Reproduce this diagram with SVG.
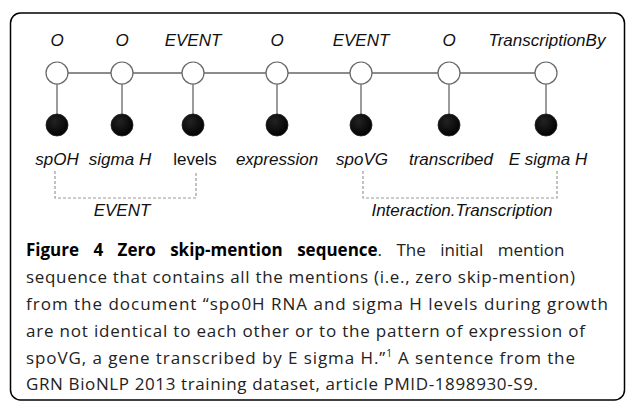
<svg xmlns="http://www.w3.org/2000/svg" width="629" height="402" viewBox="0 0 629 402">
<defs>
<radialGradient id="blk" cx="0.4" cy="0.35" r="0.7">
<stop offset="0" stop-color="#222"/>
<stop offset="1" stop-color="#000"/>
</radialGradient>
</defs>
<style>
.lbl{font-family:"Liberation Sans",Arial,sans-serif;font-size:17px;font-style:italic;fill:#111;text-anchor:middle}
.up{font-style:normal}
.wn{fill:#fff;stroke:#666;stroke-width:1.2}
.bn{fill:url(#blk);stroke:#222;stroke-width:0.8}
.edge{stroke:#666;stroke-width:1.3;fill:none}
.br{stroke:#999;stroke-width:1.2;fill:none;stroke-dasharray:3,2}
.cap{font-family:"Open Sans","Noto Sans",sans-serif;font-size:17px;fill:#222}
.b{font-weight:bold;fill:#000}
</style>
<rect x="10.5" y="13" width="614" height="387" rx="10" fill="#fff" stroke="#000" stroke-width="1.5"/>
<g id="connectors">
<line class="edge" x1="57" y1="73" x2="546" y2="73"/>
<line class="edge" x1="57" y1="73" x2="57" y2="125"/>
<line class="edge" x1="122" y1="73" x2="122" y2="125"/>
<line class="edge" x1="193" y1="73" x2="193" y2="125"/>
<line class="edge" x1="277" y1="73" x2="277" y2="125"/>
<line class="edge" x1="361" y1="73" x2="361" y2="125"/>
<line class="edge" x1="449" y1="73" x2="449" y2="125"/>
<line class="edge" x1="546" y1="73" x2="546" y2="125"/>
<polyline class="br" points="55,171 55,198 196,198 196,171"/>
<polyline class="br" points="363,171 363,198 557,198 557,171"/>
</g>
<g id="n1"><text class="lbl" x="57" y="46">O</text><circle class="wn" cx="57" cy="73" r="11"/><circle class="bn" cx="57" cy="125" r="11"/><text class="lbl" x="57" y="165">spOH</text></g>
<g id="n2"><text class="lbl" x="122" y="46">O</text><circle class="wn" cx="122" cy="73" r="11"/><circle class="bn" cx="122" cy="125" r="11"/><text class="lbl" x="120" y="165">sigma H</text></g>
<g id="n3"><text class="lbl" x="193" y="46">EVENT</text><circle class="wn" cx="193" cy="73" r="11"/><circle class="bn" cx="193" cy="125" r="11"/><text class="lbl up" x="195" y="165">levels</text></g>
<g id="n4"><text class="lbl" x="277" y="46">O</text><circle class="wn" cx="277" cy="73" r="11"/><circle class="bn" cx="277" cy="125" r="11"/><text class="lbl" x="277" y="165">expression</text></g>
<g id="n5"><text class="lbl" x="361" y="46">EVENT</text><circle class="wn" cx="361" cy="73" r="11"/><circle class="bn" cx="361" cy="125" r="11"/><text class="lbl" x="362" y="165">spoVG</text></g>
<g id="n6"><text class="lbl" x="449" y="46">O</text><circle class="wn" cx="449" cy="73" r="11"/><circle class="bn" cx="449" cy="125" r="11"/><text class="lbl" x="451" y="165">transcribed</text></g>
<g id="n7"><text class="lbl" x="547" y="46">TranscriptionBy</text><circle class="wn" cx="546" cy="73" r="11"/><circle class="bn" cx="546" cy="125" r="11"/><text class="lbl" x="548" y="165">E sigma H</text></g>
<g id="groups">
<text class="lbl" x="122" y="216">EVENT</text>
<text class="lbl" x="462" y="216">Interaction.Transcription</text>
</g>
<g id="caption">
<text class="cap" x="26" y="256" word-spacing="10"><tspan class="b">Figure 4 Zero skip-mention sequence</tspan>. The initial mention</text>
<text class="cap" x="26" y="283" textLength="549" lengthAdjust="spacing">sequence that contains all the mentions (i.e., zero skip-mention)</text>
<text class="cap" x="26" y="310" textLength="582" lengthAdjust="spacing">from the document “spo0H RNA and sigma H levels during growth</text>
<text class="cap" x="26" y="337" textLength="559" lengthAdjust="spacing">are not identical to each other or to the pattern of expression of</text>
<text class="cap" x="26" y="364" textLength="549" lengthAdjust="spacing">spoVG, a gene transcribed by E sigma H.”<tspan font-size="10" dy="-7">1</tspan><tspan dy="7"> A sentence from the</tspan></text>
<text class="cap" x="26" y="390" textLength="512" lengthAdjust="spacing">GRN BioNLP 2013 training dataset, article PMID-1898930-S9.</text>
</g>
</svg>
